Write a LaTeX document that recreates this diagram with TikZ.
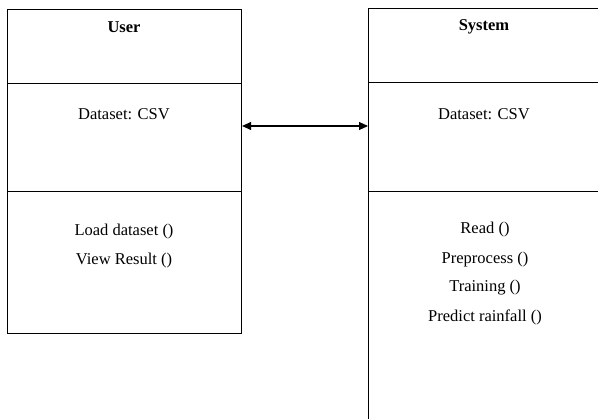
\documentclass[tikz,border=0pt]{standalone}
\usepackage{fontspec}
\setmainfont{Liberation Serif}
\usetikzlibrary{arrows.meta}
\begin{document}
\begin{tikzpicture}[x=1pt,y=-1pt,
  part/.style={draw, line width=1.1pt, inner sep=0pt, anchor=north west},
  label/.style={inner sep=0pt, font=\fontsize{16.5}{20}\selectfont},
  title/.style={label, font=\fontsize{16.5}{20}\selectfont\bfseries},
  link/.style={line width=1.1pt, {Triangle[length=9pt,width=8pt]}-{Triangle[length=9pt,width=8pt]}}]
  \useasboundingbox (0,0) rectangle (598,419);
  \begin{scope}
    \clip (0,0) rectangle (598,419);
    % User class
    \node[part, minimum width=234pt, minimum height=74pt]  (uname) at (7,9) {};
    \node[part, minimum width=234pt, minimum height=108pt] (uattr) at (7,83) {};
    \node[part, minimum width=234pt, minimum height=142pt] (uops)  at (7,191) {};
    % System class (runs past the page edge)
    \node[part, minimum width=232pt, minimum height=74pt]  (sname) at (368,8) {};
    \node[part, minimum width=232pt, minimum height=109pt] (sattr) at (368,82) {};
    \node[part, minimum width=232pt, minimum height=250pt] (sops)  at (368,191) {};
  \end{scope}
  % texts
  \node[title] (ut) at (124,27) {User};
  \node[label] (ud) at (124,114) {Dataset: CSV};
  \node[label] (u1) at (124,232) {Load dataset ()};
  \node[label] (u2) at (124,261) {View Result ()};
  \node[title] (st) at (484,27) {System};
  \node[label] (sd) at (484,114) {Dataset: CSV};
  \node[label] (s1) at (485,230) {Read ()};
  \node[label] (s2) at (485,260) {Preprocess ()};
  \node[label] (s3) at (485,288) {Training ()};
  \node[label] (s4) at (485,317) {Predict rainfall ()};
  % association
  \coordinate (ua) at (uattr.east |- 0,126);
  \coordinate (sa) at (sattr.west |- 0,126);
  \draw[link] (ua) -- (sa);
\end{tikzpicture}
\end{document}
